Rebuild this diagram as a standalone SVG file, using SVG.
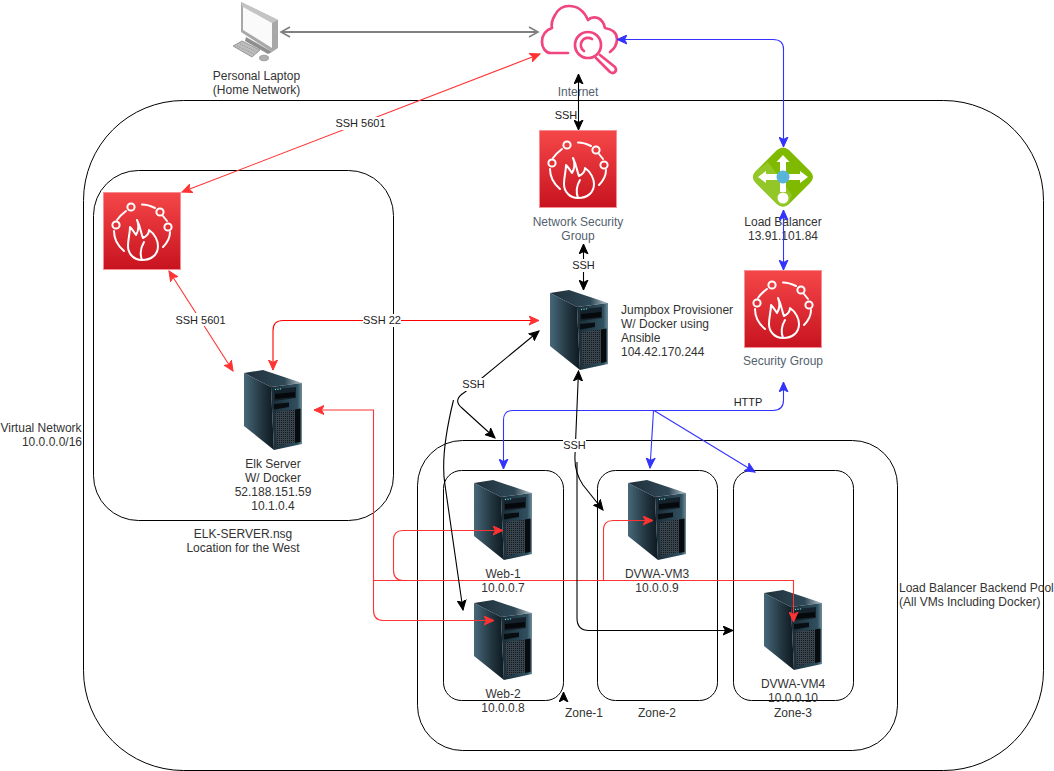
<svg xmlns="http://www.w3.org/2000/svg" width="1054" height="771" viewBox="0 0 1054 771">
<style>
text{font-family:"Liberation Sans",Arial,sans-serif;font-size:12px;fill:#333;text-anchor:middle}
#edge-labels text{font-size:11px;fill:#222}
.s{fill:#545f6e}
.l{text-anchor:start}
.r{text-anchor:end}
.box{fill:none;stroke:#000;stroke-width:1}
.c{fill:none;stroke-width:1.1}
.red{stroke:#ff3333}
.blue{stroke:#3333ff}
.blk{stroke:#000}
.bg{fill:#fff}
</style>
<defs>
<linearGradient id="fg" x1="0" y1="0" x2="0" y2="1"><stop offset="0" stop-color="#f54749"/><stop offset="1" stop-color="#c7131f"/></linearGradient>
<linearGradient id="sd" x1="0" y1="0" x2="1" y2="0"><stop offset="0" stop-color="#47687a"/><stop offset=".6" stop-color="#22353f"/><stop offset="1" stop-color="#0d1820"/></linearGradient>
<linearGradient id="tp" x1="0" y1="0" x2="1" y2="0"><stop offset="0" stop-color="#1f303b"/><stop offset=".7" stop-color="#2f4856"/><stop offset="1" stop-color="#b9c8cf"/></linearGradient>
<linearGradient id="fr" x1="0" y1="0" x2="1" y2="0"><stop offset="0" stop-color="#1a2c37"/><stop offset=".85" stop-color="#30505f"/><stop offset="1" stop-color="#6f8d9b"/></linearGradient>
<pattern id="mesh" width="2" height="2" patternUnits="userSpaceOnUse"><rect width="2" height="2" fill="#39444c"/><rect width="1" height="1" fill="#12191e"/></pattern>
<marker id="aR" markerUnits="userSpaceOnUse" markerWidth="12" markerHeight="10" refX="10" refY="5" orient="auto-start-reverse"><path d="M0 .5L10 5L0 9.500L2.500 5Z" fill="#ff3333" stroke="#ff3333"/></marker>
<marker id="aB" markerUnits="userSpaceOnUse" markerWidth="12" markerHeight="10" refX="10" refY="5" orient="auto-start-reverse"><path d="M0 .5L10 5L0 9.500L2.500 5Z" fill="#3333ff" stroke="#3333ff"/></marker>
<marker id="aK" markerUnits="userSpaceOnUse" markerWidth="12" markerHeight="10" refX="10" refY="5" orient="auto-start-reverse"><path d="M0 .5L10 5L0 9.500L2.500 5Z" fill="#000" stroke="#000"/></marker>
<marker id="aG" markerUnits="userSpaceOnUse" markerWidth="12" markerHeight="12" refX="10" refY="6" orient="auto-start-reverse"><path d="M1 1L10 6L1 11" fill="none" stroke="#808080" stroke-width="1.600"/></marker>
<symbol id="server" width="60" height="80" viewBox="0 0 60 80" overflow="visible">
<path d="M1 3L20 0L59 13L28 17Z" fill="url(#tp)"/>
<path d="M1 3L28 17L31 80L1 56Z" fill="url(#sd)"/>
<path d="M28 17L59 13L59 74L31 80Z" fill="url(#fr)"/>
<path d="M31 19.500L53 17V28L31 31Z" fill="#16222b"/>
<path d="M32 24L52 22V27L32 29Z" fill="#05090c"/>
<path d="M31 34L46 32.500V37L31 39.500Z" fill="#080d11"/>
<path d="M32 42L52 39.500V72L34 76Z" fill="url(#mesh)"/>
<path d="M52 39.500L57.500 38.500V72L52 73Z" fill="#070b0e"/>
<circle cx="32.500" cy="19.500" r=".7" fill="#62d8d8"/><circle cx="35" cy="19.200" r=".7" fill="#62d8d8"/><circle cx="37.500" cy="18.900" r=".7" fill="#62d8d8"/>
</symbol>
<symbol id="firewall" width="78" height="78" viewBox="0 0 78 78" overflow="visible">
<rect x=".5" y=".5" width="77" height="77" fill="url(#fg)" stroke="#f78e91"/>
<g fill="none" stroke="#fff" stroke-width="2" stroke-linecap="round" stroke-linejoin="round">
<path d="M39 12.500C44 12.500 48 14 52 16M60 24L64 29M67 40C67 47 64 51 60 55M11 39C11 47 15 54 21 59M14 28C16 25 19 22 23 19"/>
<circle cx="28" cy="15" r="3.600"/><circle cx="57" cy="20" r="3.600"/><circle cx="65" cy="35" r="3.600"/><circle cx="13" cy="33" r="3.600"/>
<path d="M34 28C38 36 38 42 40 46C44 44 46 41 46 38C52 42 55 49 55 54C55 63 48 68 39 68C31 68 25 62 25 54C25 47 27 41 27 35C30 38 31 40 33 43C36 38 36 33 34 28ZM39 68C36 60 38 55 41 50"/>
</g>
</symbol>
</defs>

<g id="containers">
<rect class="box" x="83.500" y="100.500" width="960" height="670" rx="100"/>
<rect class="box" x="93.500" y="170.500" width="300" height="350" rx="45"/>
<rect class="box" x="417.500" y="440.500" width="480" height="310" rx="45"/>
<rect class="box" x="443.500" y="470.500" width="120" height="230" rx="18"/>
<rect class="box" x="597.500" y="470.500" width="120" height="230" rx="18"/>
<rect class="box" x="733.500" y="470.500" width="120" height="230" rx="18"/>
</g>

<g id="labels">
<text x="41" y="432">Virtual Network</text><text x="82" y="446" class="r">10.0.0.0/16</text>
<text x="243" y="538">ELK-SERVER.nsg</text><text x="243" y="552">Location for the West</text>
<text x="899" y="592" class="l">Load Balancer Backend Pool</text><text x="899" y="606" class="l">(All VMs Including Docker)</text>
<text x="584" y="717">Zone-1</text><text x="657" y="717">Zone-2</text><text x="793" y="717">Zone-3</text>
</g>

<g id="laptop">
<path d="M241 2L278 20V48L272 52L241 32Z" fill="#a8a8a8"/>
<path d="M241 2L278 20L272 23L243 8Z" fill="#c4c4c4"/>
<path d="M243 7L272 23V48L243 30Z" fill="#fafafa"/>
<path d="M246 37L272 52L268 54L245 41Z" fill="#8e8e8e"/>
<path d="M233 46L242 41L260 50L252 57Z" fill="#bdbdbd" stroke="#7b7b7b" stroke-width=".7"/>
<path d="M237 46L254 54M240 44L257 52" stroke="#858585" stroke-width=".7" stroke-dasharray="1 1" fill="none"/>
<ellipse cx="264" cy="58" rx="4.500" ry="2.800" fill="#b0b0b0" stroke="#7b7b7b" stroke-width=".6"/>
<text x="256.500" y="79.500">Personal Laptop</text><text x="256.500" y="93.500">(Home Network)</text>
</g>

<g id="internet">
<g fill="none" stroke="#f0457f" stroke-width="2.700" stroke-linecap="round" stroke-linejoin="round">
<path d="M568 53H551C545 53 542 47 542 42C542 35 546 30 552 28C551 24 552 20 555 15C558 9 563 6 569 6C577 6 584 11 588 20C591 17 595 17 598 18C602 20 604 23 605 28C612 29 617 33 617 39C617 45 614 49 610 52"/>
<circle cx="588" cy="45" r="13"/>
<path d="M592 39A7 7 0 0 0 584 51"/>
<path d="M600 55L615 67Q617 70 615 72Q613 74 610 72L596 58"/>
</g>
<text class="s" x="578" y="96">Internet</text>
</g>

<g id="nsg"><use href="#firewall" x="539" y="130"/><text class="s" x="578" y="226">Network Security</text><text class="s" x="578" y="240">Group</text></g>

<g id="load-balancer">
<path d="M777 150Q783 145 789 150L810 171Q816 177 810 183L789 204Q783 209 777 204L756 183Q750 177 756 171Z" fill="#7fba00"/>
<path d="M756 183Q750 177 756 171L768 162L792 195L789 204Q783 209 777 204Z" fill="#93c627"/>
<g fill="#fff">
<path d="M783 155L789.500 162H786V174H800V171L808 177L800 183V180H786V192H780V180H766V183L758 177L766 171V174H780V162H776.500Z"/>
<circle cx="783" cy="198" r="5.500"/>
</g>
<circle cx="783" cy="177" r="6.500" fill="#59b4d9"/>
<text x="783" y="226">Load Balancer</text><text x="783" y="240">13.91.101.84</text>
</g>

<g id="security-group"><use href="#firewall" x="744" y="270"/><text class="s" x="783" y="365">Security Group</text></g>
<g id="elk-nsg"><use href="#firewall" x="103" y="192"/></g>
<g id="elk-server"><use href="#server" x="243" y="370"/><text x="273" y="468">Elk Server</text><text x="273" y="482">W/ Docker</text><text x="273" y="496">52.188.151.59</text><text x="273" y="510">10.1.0.4</text></g>
<g id="jumpbox"><use href="#server" x="549" y="290"/><text class="l" x="621" y="314">Jumpbox Provisioner</text><text class="l" x="621" y="328">W/ Docker using</text><text class="l" x="621" y="342">Ansible</text><text class="l" x="621" y="356">104.42.170.244</text></g>
<g id="web-1"><use href="#server" x="473" y="480"/><text x="503" y="577.500">Web-1</text><text x="503" y="591.500">10.0.0.7</text></g>
<g id="web-2"><use href="#server" x="473" y="600"/><text x="503" y="697.500">Web-2</text><text x="503" y="711.500">10.0.0.8</text></g>
<g id="dvwa-vm3"><use href="#server" x="627" y="480"/><text x="657" y="577.500">DVWA-VM3</text><text x="657" y="591.500">10.0.0.9</text></g>
<g id="dvwa-vm4"><use href="#server" x="763" y="590"/><text x="793" y="687.500">DVWA-VM4</text><text x="793" y="701.500">10.0.0.10</text></g>

<g id="connectors">
<path d="M281 32H538" fill="none" stroke="#808080" stroke-width="2" marker-start="url(#aG)" marker-end="url(#aG)"/>
<path class="c red" d="M540 54L182 192" marker-start="url(#aR)" marker-end="url(#aR)"/>
<path class="c red" d="M169 271L233 371" marker-start="url(#aR)" marker-end="url(#aR)"/>
<path class="c" stroke="#ff0000" d="M539 320.500H283Q273 320.500 273 330.500V370" marker-start="url(#aR)" marker-end="url(#aR)"/>
<path class="c red" d="M314 410H373.500V610Q373.500 620.500 383 620.500H494" marker-start="url(#aR)" marker-end="url(#aR)"/>
<path class="c red" d="M373.500 580.500H793.500V622" marker-end="url(#aR)"/>
<path class="c red" d="M403 580.500Q393.500 580.500 393.500 570V540Q393.500 530.500 403 530.500H503" marker-end="url(#aR)"/>
<path class="c red" d="M603.500 580.500V530Q603.500 520.500 613 520.500H653" marker-end="url(#aR)"/>
<path class="c blue" d="M617 39.500H773Q783.500 39.500 783.500 49V147" marker-start="url(#aB)" marker-end="url(#aB)"/>
<path class="c blue" d="M783.500 210V270" marker-start="url(#aB)" marker-end="url(#aB)"/>
<path class="c blue" d="M783.500 382V400Q783.500 410.500 773 410.500H513Q503.500 410.500 503.500 420V469" marker-start="url(#aB)" marker-end="url(#aB)"/>
<path class="c blue" d="M653.500 410.500L650 468" marker-end="url(#aB)"/>
<path class="c blue" d="M654 410.500L755 472" marker-end="url(#aB)"/>
<path class="c blk" d="M578.500 74V130" marker-start="url(#aK)" marker-end="url(#aK)"/>
<path class="c blk" d="M583.500 244V290" marker-start="url(#aK)" marker-end="url(#aK)"/>
<path class="c blk" d="M539 331L465 392Q452 400 462 408L495 438" marker-start="url(#aK)" marker-end="url(#aK)"/>
<path class="c blk" d="M453.500 400Q440 455 445 485L463 610" marker-end="url(#aK)"/>
<path class="c blk" d="M578.500 371L575 455Q574 472 583 485L603 510" marker-start="url(#aK)" marker-end="url(#aK)"/>
<path class="c blk" d="M577 462V618Q577 630.500 589 630.500H733" marker-end="url(#aK)"/>
<path class="c blk" d="M563.500 700V692" marker-end="url(#aK)"/>
</g>

<g id="edge-labels">
<rect class="bg" x="335" y="117" width="51" height="13"/><text x="360.500" y="127">SSH 5601</text>
<rect class="bg" x="175" y="313" width="51" height="13"/><text x="200.500" y="324">SSH 5601</text>
<rect class="bg" x="363" y="314" width="38" height="13"/><text x="382" y="324">SSH 22</text>
<text x="566" y="119">SSH</text>
<rect class="bg" x="572" y="259" width="23" height="13"/><text x="583.500" y="269">SSH</text>
<rect class="bg" x="462" y="378" width="23" height="13"/><text x="473.500" y="388">SSH</text>
<rect class="bg" x="563" y="439" width="23" height="13"/><text x="574.500" y="449">SSH</text>
<text x="748" y="406">HTTP</text>
</g>
</svg>
